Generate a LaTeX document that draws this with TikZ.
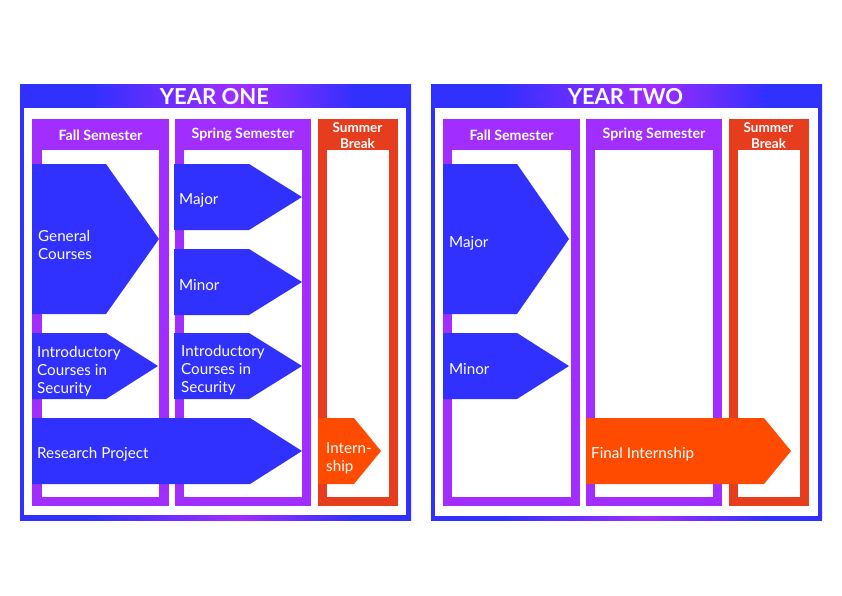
\documentclass[tikz,border=0pt]{standalone}
\usepackage{fontspec}
\setmainfont{Lato}
\definecolor{yblue}{HTML}{3030FF}
\definecolor{ypurple}{HTML}{A22CFF}
\definecolor{colpurple}{HTML}{A12DFF}
\definecolor{sumred}{HTML}{E53D1E}
\definecolor{arrblue}{HTML}{3030FF}
\definecolor{arrorange}{HTML}{FF4B00}
\pgfdeclarehorizontalshading{yearshade}{100bp}{color(0bp)=(yblue); color(25bp)=(yblue); color(34bp)=(yblue); color(53bp)=(ypurple); color(68bp)=(yblue); color(75bp)=(yblue); color(100bp)=(yblue)}
\tikzset{
  yeartitle/.style={text=white, font=\bfseries\fontsize{22}{24}\selectfont, inner sep=0pt},
  colhead/.style={text=white, font=\bfseries\fontsize{14.2}{16}\selectfont, inner sep=0pt},
  sumhead/.style={text=white, font=\bfseries\fontsize{13.5}{16}\selectfont, inner sep=0pt, align=center},
  atext/.style={text=white, font=\fontsize{15.2}{18}\selectfont, inner sep=0pt, anchor=west, align=left},
  bluearrow/.style={fill=arrblue},
  orangearrow/.style={fill=arrorange},
}
\begin{document}
\begin{tikzpicture}[x=1pt,y=-1pt]
\useasboundingbox (0,0) rectangle (842,595);
\fill[white] (0,0) rectangle (842,595);
% ---------- Year frames
\shade[shading=yearshade] (20,84) rectangle (411,520);
\fill[white] (24,108) rectangle (406,515);
\shade[shading=yearshade] (431,84) rectangle (822,520);
\fill[white] (435,108) rectangle (818,516);
\node[yeartitle] (y1) at (214.5,96.5) {YEAR ONE};
\node[yeartitle] (y2) at (625.5,96.5) {YEAR TWO};
% ---------- Columns year one
\fill[colpurple] (32,119) rectangle (169,506);
\fill[white] (42,150) rectangle (159,497);
\fill[colpurple] (175,119) rectangle (311,506);
\fill[white] (184,150) rectangle (302,497);
\fill[sumred] (318,119) rectangle (398,506);
\fill[white] (327,150) rectangle (389,497);
\node[colhead] (f1) at (100.5,135) {Fall Semester};
\node[colhead] (s1) at (243,135) {Spring Semester};
\node[sumhead] (b1) at (357.5,135.5) {Summer\\Break};
% ---------- Columns year two
\fill[colpurple] (443,119) rectangle (580,506);
\fill[white] (452,150) rectangle (571,497);
\fill[colpurple] (586,119) rectangle (722,506);
\fill[white] (595,150) rectangle (713,497);
\fill[sumred] (729,119) rectangle (809,506);
\fill[white] (738,150) rectangle (800,497);
\node[colhead] (f2) at (511.5,135) {Fall Semester};
\node[colhead] (s2) at (654,135) {Spring Semester};
\node[sumhead] (b2) at (768.5,135.5) {Summer\\Break};
% ---------- Arrows year one
\fill[bluearrow] (32,164) -- (106,164) -- (159,239) -- (106,314) -- (32,314) -- cycle;
\fill[bluearrow] (32,333) -- (106,333) -- (158,366) -- (106,399) -- (32,399) -- cycle;
\fill[bluearrow] (174,164) -- (249,164) -- (302,197) -- (249,230) -- (174,230) -- cycle;
\fill[bluearrow] (174,249) -- (249,249) -- (302,282) -- (249,315) -- (174,315) -- cycle;
\fill[bluearrow] (174,333) -- (249,333) -- (302,366) -- (249,399) -- (174,399) -- cycle;
\fill[bluearrow] (32,418) -- (250,418) -- (302,451) -- (250,484) -- (32,484) -- cycle;
\fill[orangearrow] (318,418) -- (354,418) -- (381,451) -- (354,484) -- (318,484) -- cycle;
\node[atext] (gc) at (38,245) {General\\Courses};
\node[atext] (ic1) at (37,371) {Introductory\\Courses in\\Security};
\node[atext] (ma1) at (179,200) {Major};
\node[atext] (mi1) at (179,285) {Minor};
\node[atext] (ic2) at (181,370) {Introductory\\Courses in\\Security};
\node[atext] (rp) at (37,454) {Research Project};
\node[atext] (in) at (326,458) {Intern-\\ship};
% ---------- Arrows year two
\fill[bluearrow] (443,164) -- (517,164) -- (569,239) -- (517,314) -- (443,314) -- cycle;
\fill[bluearrow] (443,333) -- (517,333) -- (569,366) -- (517,399) -- (443,399) -- cycle;
\fill[orangearrow] (586,418) -- (764,418) -- (791,451) -- (764,484) -- (586,484) -- cycle;
\node[atext] (ma2) at (449,243) {Major};
\node[atext] (mi2) at (449,369) {Minor};
\node[atext] (fi) at (591,454) {Final Internship};
\end{tikzpicture}
\end{document}
